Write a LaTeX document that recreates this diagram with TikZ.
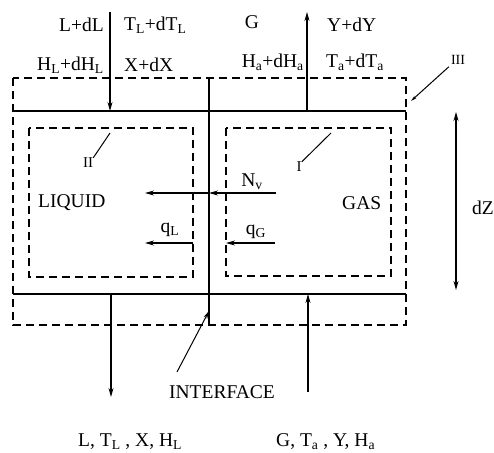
\documentclass[tikz,border=0pt]{standalone}
\usepackage{fontspec}
\setmainfont{Liberation Serif}
\usetikzlibrary{arrows.meta}
\begin{document}
\begin{tikzpicture}[x=1pt,y=-1pt,
  txt/.style={inner sep=0pt,font=\fontsize{19.5}{22}\selectfont},
  small/.style={inner sep=0pt,font=\fontsize{15}{17}\selectfont},
  dash box/.style={draw,line width=1.1pt,dash pattern=on 8pt off 5pt},
  wall/.style={draw,line width=1.4pt},
  flow/.style={draw,line width=1.1pt,-{Stealth[length=9pt,width=5pt]}},
  leader/.style={draw,line width=1pt}]
\useasboundingbox (0,0) rectangle (494,452);
% outer control volume III
\draw[dash box] (13,78) rectangle (406,325);
% inner volumes II and I
\draw[dash box] (29,128) rectangle (193,277);
\draw[dash box] (226,128) rectangle (391,276);
% solid boundaries
\coordinate (tl) at (13,111); \coordinate (tr) at (406,111);
\coordinate (bl) at (13,294); \coordinate (br) at (406,294);
\draw[wall] (tl) -- (tr);
\draw[wall] (bl) -- (br);
\coordinate (itop) at (209,78); \coordinate (ibot) at (209,325);
\draw[wall] (itop) -- (ibot);
% flows
\coordinate (Lin) at (110,12); \coordinate (Lin2) at (110,111);
\draw[flow] (Lin) -- (Lin2);
\coordinate (Gout) at (307,111); \coordinate (Gout2) at (307,12);
\draw[flow] (Gout) -- (Gout2);
\coordinate (Lout) at (111,294); \coordinate (Lout2) at (111,397);
\draw[flow] (Lout) -- (Lout2);
\coordinate (Gin) at (308,392); \coordinate (Gin2) at (308,294);
\draw[flow] (Gin) -- (Gin2);
% N_v
\coordinate (nv1) at (276,193); \coordinate (nv2) at (209,193); \coordinate (nv3) at (145,193);
\draw[flow] (nv1) -- (nv2);
\draw[flow] (nv2) -- (nv3);
% q_L, q_G
\coordinate (ql1) at (193,243); \coordinate (ql2) at (145,243);
\draw[flow] (ql1) -- (ql2);
\coordinate (qg1) at (275,243); \coordinate (qg2) at (226,243);
\draw[flow] (qg1) -- (qg2);
% dZ
\coordinate (dz1) at (456,112); \coordinate (dz2) at (456,290);
\draw[line width=1.1pt,{Stealth[length=9pt,width=5pt]}-{Stealth[length=9pt,width=5pt]}] (dz1) -- (dz2);
% texts top
\node[txt,anchor=east] (t1) at (104,25) {L+dL};
\node[txt,anchor=west] (t2) at (124,25) {T\textsubscript{L}+dT\textsubscript{L}};
\node[txt,anchor=east] (t3) at (104,65) {H\textsubscript{L}+dH\textsubscript{L}};
\node[txt,anchor=west] (t4) at (124,65) {X+dX};
\node[txt] (t5) at (252,22) {G};
\node[txt,anchor=west] (t6) at (327,25) {Y+dY};
\node[txt,anchor=east] (t7) at (304,62) {H\textsubscript{a}+dH\textsubscript{a}};
\node[txt,anchor=west] (t8) at (326,62) {T\textsubscript{a}+dT\textsubscript{a}};
% labels
\node[small,font=\fontsize{14}{16}\selectfont] (III) at (458,60) {III};
\coordinate (IIIend) at (411,101);
\draw[leader,-{Stealth[length=6pt,width=3pt]}] (III.south west) ++(-2,2) -- (IIIend);
\node[small] (II) at (88,163) {II};
\coordinate (IIst) at (110,133);
\draw[leader] (IIst) -- (II.north east);
\node[small] (I) at (299,167) {I};
\coordinate (Ist) at (331,133);
\draw[leader] (Ist) -- (I.north east);
\node[txt,anchor=west] (liq) at (38,203) {LIQUID};
\node[txt,anchor=west] (gas) at (342,203) {GAS};
\node[txt] (nv) at (252,182) {N\textsubscript{v}};
\node[txt] (ql) at (170,230) {q\textsubscript{L}};
\node[txt] (qg) at (256,232) {q\textsubscript{G}};
\node[txt] (dz) at (483,208) {dZ};
\node[txt] (intf) at (222,392) {INTERFACE};
\coordinate (intst) at (177,372); \coordinate (intend) at (209,311);
\draw[leader,-{Stealth[length=8pt,width=4pt]}] (intst) -- (intend);
\node[txt,anchor=west] (b1) at (78,442) {L, T\textsubscript{L} , X, H\textsubscript{L}};
\node[txt,anchor=west] (b2) at (276,442) {G, T\textsubscript{a} , Y, H\textsubscript{a}};
\end{tikzpicture}
\end{document}
